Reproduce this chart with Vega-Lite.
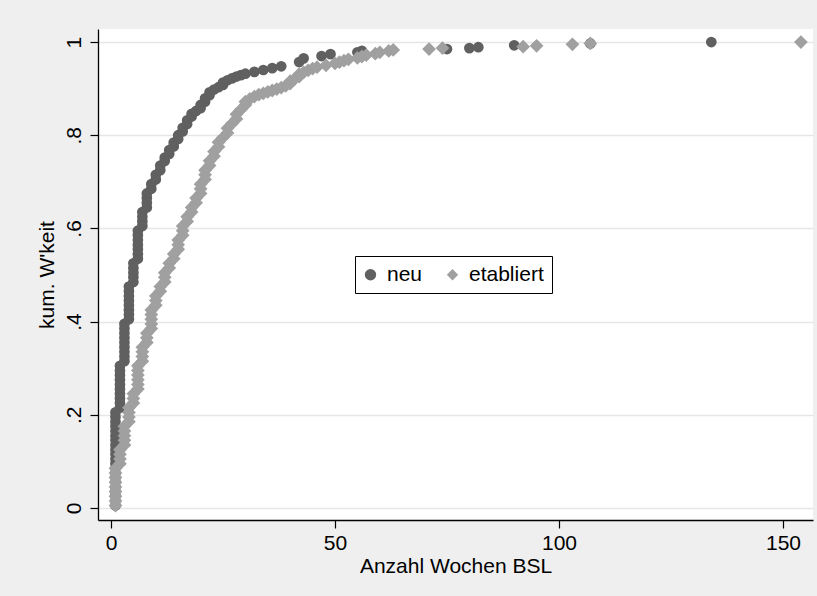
{
  "$schema": "https://vega.github.io/schema/vega-lite/v6.json",
  "width": 715,
  "height": 491,
  "autosize": {"type": "none"},
  "padding": {"left": 98, "top": 29, "right": 4, "bottom": 76},
  "background": "#efefef",
  "config": {
    "font": "Liberation Sans",
    "view": {"fill": "white", "stroke": null},
    "axis": {"labelColor": "black", "titleColor": "black", "labelFont": "Liberation Sans", "titleFont": "Liberation Sans", "labelFontSize": 21, "titleFontSize": 21, "titleFontWeight": "normal", "domainColor": "black", "domainWidth": 1.3, "tickColor": "black", "tickWidth": 1.2, "tickSize": 8}
  },
  "datasets": {
    "pts": [
      {"g":"neu","x":1,"y":0.005},{"g":"neu","x":1,"y":0.015},{"g":"neu","x":1,"y":0.025},{"g":"neu","x":1,"y":0.035},{"g":"neu","x":1,"y":0.045},{"g":"neu","x":1,"y":0.055},{"g":"neu","x":1,"y":0.065},{"g":"neu","x":1,"y":0.075},{"g":"neu","x":1,"y":0.085},{"g":"neu","x":1,"y":0.095},{"g":"neu","x":1,"y":0.105},{"g":"neu","x":1,"y":0.115},{"g":"neu","x":1,"y":0.125},{"g":"neu","x":1,"y":0.135},{"g":"neu","x":1,"y":0.145},{"g":"neu","x":1,"y":0.155},{"g":"neu","x":1,"y":0.165},{"g":"neu","x":1,"y":0.175},{"g":"neu","x":1,"y":0.185},{"g":"neu","x":1,"y":0.195},{"g":"neu","x":1,"y":0.205},
      {"g":"neu","x":2,"y":0.215},{"g":"neu","x":2,"y":0.225},{"g":"neu","x":2,"y":0.235},{"g":"neu","x":2,"y":0.245},{"g":"neu","x":2,"y":0.255},{"g":"neu","x":2,"y":0.265},{"g":"neu","x":2,"y":0.275},{"g":"neu","x":2,"y":0.285},{"g":"neu","x":2,"y":0.295},{"g":"neu","x":2,"y":0.305},
      {"g":"neu","x":3,"y":0.315},{"g":"neu","x":3,"y":0.325},{"g":"neu","x":3,"y":0.335},{"g":"neu","x":3,"y":0.345},{"g":"neu","x":3,"y":0.355},{"g":"neu","x":3,"y":0.365},{"g":"neu","x":3,"y":0.375},{"g":"neu","x":3,"y":0.385},{"g":"neu","x":3,"y":0.395},
      {"g":"neu","x":4,"y":0.405},{"g":"neu","x":4,"y":0.415},{"g":"neu","x":4,"y":0.425},{"g":"neu","x":4,"y":0.435},{"g":"neu","x":4,"y":0.445},{"g":"neu","x":4,"y":0.455},{"g":"neu","x":4,"y":0.465},{"g":"neu","x":4,"y":0.475},
      {"g":"neu","x":5,"y":0.485},{"g":"neu","x":5,"y":0.495},{"g":"neu","x":5,"y":0.505},{"g":"neu","x":5,"y":0.515},{"g":"neu","x":5,"y":0.525},
      {"g":"neu","x":6,"y":0.535},{"g":"neu","x":6,"y":0.545},{"g":"neu","x":6,"y":0.555},{"g":"neu","x":6,"y":0.565},{"g":"neu","x":6,"y":0.575},{"g":"neu","x":6,"y":0.585},{"g":"neu","x":6,"y":0.595},
      {"g":"neu","x":7,"y":0.605},{"g":"neu","x":7,"y":0.615},{"g":"neu","x":7,"y":0.625},{"g":"neu","x":7,"y":0.635},
      {"g":"neu","x":8,"y":0.645},{"g":"neu","x":8,"y":0.655},{"g":"neu","x":8,"y":0.665},{"g":"neu","x":8,"y":0.675},
      {"g":"neu","x":9,"y":0.685},{"g":"neu","x":9,"y":0.695},
      {"g":"neu","x":10,"y":0.705},{"g":"neu","x":10,"y":0.715},
      {"g":"neu","x":11,"y":0.725},{"g":"neu","x":11,"y":0.735},
      {"g":"neu","x":12,"y":0.745},{"g":"neu","x":12,"y":0.752},
      {"g":"neu","x":13,"y":0.76},{"g":"neu","x":13,"y":0.768},
      {"g":"neu","x":14,"y":0.776},{"g":"neu","x":14,"y":0.784},
      {"g":"neu","x":15,"y":0.792},{"g":"neu","x":15,"y":0.8},
      {"g":"neu","x":16,"y":0.808},{"g":"neu","x":16,"y":0.816},
      {"g":"neu","x":17,"y":0.824},{"g":"neu","x":17,"y":0.832},
      {"g":"neu","x":18,"y":0.84},{"g":"neu","x":18,"y":0.846},
      {"g":"neu","x":19,"y":0.852},
      {"g":"neu","x":20,"y":0.858},{"g":"neu","x":20,"y":0.865},
      {"g":"neu","x":21,"y":0.872},{"g":"neu","x":21,"y":0.879},
      {"g":"neu","x":22,"y":0.886},{"g":"neu","x":22,"y":0.892},
      {"g":"neu","x":23,"y":0.898},
      {"g":"neu","x":24,"y":0.903},
      {"g":"neu","x":25,"y":0.908},{"g":"neu","x":25,"y":0.913},
      {"g":"neu","x":26,"y":0.918},
      {"g":"neu","x":27,"y":0.922},
      {"g":"neu","x":28,"y":0.926},
      {"g":"neu","x":29,"y":0.929},
      {"g":"neu","x":30,"y":0.932},
      {"g":"neu","x":32,"y":0.936},
      {"g":"neu","x":34,"y":0.94},
      {"g":"neu","x":36,"y":0.944},
      {"g":"neu","x":38,"y":0.948},
      {"g":"neu","x":42,"y":0.957},
      {"g":"neu","x":43,"y":0.965},
      {"g":"neu","x":47,"y":0.97},
      {"g":"neu","x":49,"y":0.974},
      {"g":"neu","x":55,"y":0.978},
      {"g":"neu","x":56,"y":0.981},
      {"g":"neu","x":75,"y":0.985},
      {"g":"neu","x":80,"y":0.987},
      {"g":"neu","x":82,"y":0.989},
      {"g":"neu","x":90,"y":0.993},
      {"g":"neu","x":107,"y":0.997},
      {"g":"neu","x":134,"y":1.0},
      {"g":"etabliert","x":1,"y":0.005},{"g":"etabliert","x":1,"y":0.015},{"g":"etabliert","x":1,"y":0.025},{"g":"etabliert","x":1,"y":0.035},{"g":"etabliert","x":1,"y":0.045},{"g":"etabliert","x":1,"y":0.055},{"g":"etabliert","x":1,"y":0.065},{"g":"etabliert","x":1,"y":0.075},{"g":"etabliert","x":1,"y":0.085},
      {"g":"etabliert","x":2,"y":0.095},{"g":"etabliert","x":2,"y":0.105},{"g":"etabliert","x":2,"y":0.115},{"g":"etabliert","x":2,"y":0.125},
      {"g":"etabliert","x":3,"y":0.135},{"g":"etabliert","x":3,"y":0.145},{"g":"etabliert","x":3,"y":0.155},{"g":"etabliert","x":3,"y":0.165},{"g":"etabliert","x":3,"y":0.175},
      {"g":"etabliert","x":4,"y":0.185},{"g":"etabliert","x":4,"y":0.195},{"g":"etabliert","x":4,"y":0.205},{"g":"etabliert","x":4,"y":0.215},
      {"g":"etabliert","x":5,"y":0.225},{"g":"etabliert","x":5,"y":0.235},{"g":"etabliert","x":5,"y":0.245},
      {"g":"etabliert","x":6,"y":0.255},{"g":"etabliert","x":6,"y":0.265},{"g":"etabliert","x":6,"y":0.275},{"g":"etabliert","x":6,"y":0.285},{"g":"etabliert","x":6,"y":0.295},{"g":"etabliert","x":6,"y":0.305},
      {"g":"etabliert","x":7,"y":0.315},{"g":"etabliert","x":7,"y":0.325},{"g":"etabliert","x":7,"y":0.335},{"g":"etabliert","x":7,"y":0.345},
      {"g":"etabliert","x":8,"y":0.355},{"g":"etabliert","x":8,"y":0.365},{"g":"etabliert","x":8,"y":0.375},
      {"g":"etabliert","x":9,"y":0.385},{"g":"etabliert","x":9,"y":0.395},{"g":"etabliert","x":9,"y":0.405},{"g":"etabliert","x":9,"y":0.415},{"g":"etabliert","x":9,"y":0.425},
      {"g":"etabliert","x":10,"y":0.435},{"g":"etabliert","x":10,"y":0.445},{"g":"etabliert","x":10,"y":0.455},
      {"g":"etabliert","x":11,"y":0.465},{"g":"etabliert","x":11,"y":0.475},
      {"g":"etabliert","x":12,"y":0.485},{"g":"etabliert","x":12,"y":0.495},{"g":"etabliert","x":12,"y":0.505},
      {"g":"etabliert","x":13,"y":0.515},{"g":"etabliert","x":13,"y":0.525},
      {"g":"etabliert","x":14,"y":0.535},{"g":"etabliert","x":14,"y":0.545},
      {"g":"etabliert","x":15,"y":0.555},{"g":"etabliert","x":15,"y":0.565},{"g":"etabliert","x":15,"y":0.575},
      {"g":"etabliert","x":16,"y":0.585},{"g":"etabliert","x":16,"y":0.595},{"g":"etabliert","x":16,"y":0.605},
      {"g":"etabliert","x":17,"y":0.615},{"g":"etabliert","x":17,"y":0.625},
      {"g":"etabliert","x":18,"y":0.635},{"g":"etabliert","x":18,"y":0.645},
      {"g":"etabliert","x":19,"y":0.655},{"g":"etabliert","x":19,"y":0.665},
      {"g":"etabliert","x":20,"y":0.675},{"g":"etabliert","x":20,"y":0.685},{"g":"etabliert","x":20,"y":0.695},
      {"g":"etabliert","x":21,"y":0.705},{"g":"etabliert","x":21,"y":0.715},{"g":"etabliert","x":21,"y":0.725},
      {"g":"etabliert","x":22,"y":0.735},{"g":"etabliert","x":22,"y":0.745},
      {"g":"etabliert","x":23,"y":0.755},{"g":"etabliert","x":23,"y":0.765},
      {"g":"etabliert","x":24,"y":0.775},{"g":"etabliert","x":24,"y":0.785},
      {"g":"etabliert","x":25,"y":0.795},
      {"g":"etabliert","x":26,"y":0.805},{"g":"etabliert","x":26,"y":0.815},
      {"g":"etabliert","x":27,"y":0.825},
      {"g":"etabliert","x":28,"y":0.835},{"g":"etabliert","x":28,"y":0.845},
      {"g":"etabliert","x":29,"y":0.855},
      {"g":"etabliert","x":30,"y":0.865},{"g":"etabliert","x":30,"y":0.872},
      {"g":"etabliert","x":31,"y":0.878},
      {"g":"etabliert","x":32,"y":0.883},
      {"g":"etabliert","x":33,"y":0.887},
      {"g":"etabliert","x":34,"y":0.89},
      {"g":"etabliert","x":35,"y":0.893},
      {"g":"etabliert","x":36,"y":0.896},
      {"g":"etabliert","x":37,"y":0.899},
      {"g":"etabliert","x":38,"y":0.902},
      {"g":"etabliert","x":39,"y":0.906},
      {"g":"etabliert","x":40,"y":0.911},{"g":"etabliert","x":40,"y":0.916},
      {"g":"etabliert","x":41,"y":0.921},
      {"g":"etabliert","x":42,"y":0.926},{"g":"etabliert","x":42,"y":0.931},
      {"g":"etabliert","x":43,"y":0.935},
      {"g":"etabliert","x":44,"y":0.939},
      {"g":"etabliert","x":45,"y":0.943},
      {"g":"etabliert","x":46,"y":0.946},
      {"g":"etabliert","x":48,"y":0.95},
      {"g":"etabliert","x":50,"y":0.954},
      {"g":"etabliert","x":51,"y":0.957},
      {"g":"etabliert","x":52,"y":0.96},
      {"g":"etabliert","x":53,"y":0.963},
      {"g":"etabliert","x":55,"y":0.966},
      {"g":"etabliert","x":56,"y":0.969},
      {"g":"etabliert","x":57,"y":0.972},
      {"g":"etabliert","x":59,"y":0.975},
      {"g":"etabliert","x":60,"y":0.978},
      {"g":"etabliert","x":62,"y":0.981},
      {"g":"etabliert","x":63,"y":0.983},
      {"g":"etabliert","x":71,"y":0.985},
      {"g":"etabliert","x":74,"y":0.987},
      {"g":"etabliert","x":92,"y":0.99},
      {"g":"etabliert","x":95,"y":0.992},
      {"g":"etabliert","x":103,"y":0.995},
      {"g":"etabliert","x":107,"y":0.997},
      {"g":"etabliert","x":154,"y":1.0}
    ]
  },
  "data": {"name": "pts"},
  "encoding": {
    "x": {"field": "x", "type": "quantitative", "scale": {"domain": [-2.9, 156.7], "nice": false, "zero": false},
      "axis": {"values": [0, 50, 100, 150], "grid": false, "title": "Anzahl Wochen BSL", "labelPadding": 4, "titlePadding": 2}},
    "y": {"field": "y", "type": "quantitative", "scale": {"domain": [-0.026, 1.028], "nice": false, "zero": false},
      "axis": {"values": [0, 0.2, 0.4, 0.6, 0.8, 1], "grid": true, "gridColor": "#e6e6e6", "gridWidth": 1.5, "title": "kum. W'keit",
        "labelExpr": "datum.value == 0 ? '0' : (datum.value == 1 ? '1' : replace(format(datum.value, '.1f'), '0.', '.'))",
        "labelAngle": -90, "labelAlign": "center", "labelBaseline": "alphabetic", "labelPadding": 10, "titlePadding": 6}},
    "color": {"field": "g", "type": "nominal", "scale": {"domain": ["neu", "etabliert"], "range": ["#606060", "#a0a0a0"]},
      "legend": {"title": null, "orient": "none", "legendX": 257, "legendY": 227, "direction": "horizontal",
        "strokeColor": "black", "fillColor": "white", "padding": 8, "cornerRadius": 0,
        "labelFontSize": 21, "labelFont": "Liberation Sans", "labelColor": "black", "symbolSize": 130, "symbolStrokeWidth": 0, "symbolOffset": -3, "labelOffset": 6, "columnPadding": 22, "symbolOpacity": 1}},
    "shape": {"field": "g", "type": "nominal", "scale": {"domain": ["neu", "etabliert"], "range": ["circle", "diamond"]}}
  },
  "layer": [
    {"transform": [{"filter": "datum.g == 'neu'"}], "mark": {"type": "point", "filled": true, "opacity": 1, "size": 115, "strokeWidth": 0}},
    {"transform": [{"filter": "datum.g == 'etabliert'"}], "mark": {"type": "point", "filled": true, "opacity": 1, "size": 190, "strokeWidth": 0}}
  ]
}
